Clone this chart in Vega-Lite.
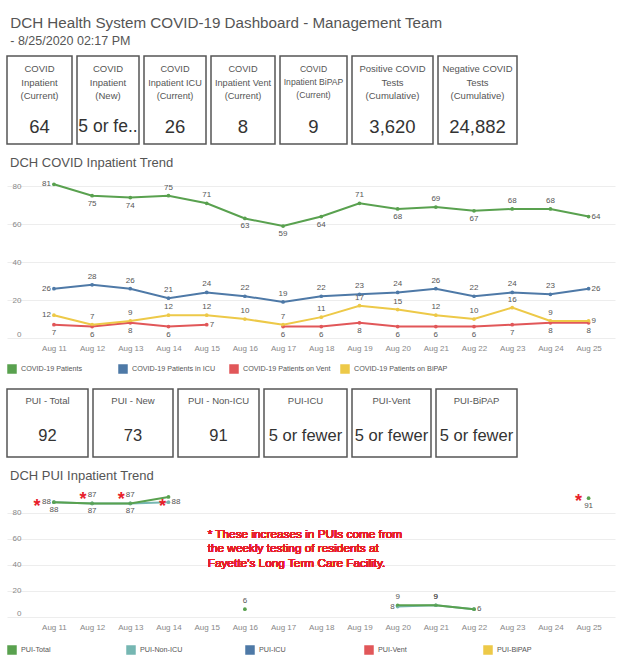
{
  "$schema": "https://vega.github.io/schema/vega-lite/v6.json",
  "background": "white",
  "padding": {"left": 6, "top": 15, "right": 4, "bottom": 4},
  "title": {
    "text": "DCH Health System COVID-19 Dashboard - Management Team",
    "subtitle": "- 8/25/2020 02:17 PM",
    "anchor": "start",
    "dx": 4,
    "fontSize": 15.2,
    "fontWeight": "normal",
    "color": "#555555",
    "subtitleFontSize": 12.5,
    "subtitleColor": "#555555",
    "subtitlePadding": 4,
    "offset": 8
  },
  "datasets": {
    "kpi1": [
      {"k": "a", "label": "COVID\nInpatient\n(Current)", "value": "64"},
      {"k": "b", "label": "COVID\nInpatient\n(New)", "value": "5 or fewer"},
      {"k": "c", "label": "COVID\nInpatient ICU\n(Current)", "value": "26"},
      {"k": "d", "label": "COVID\nInpatient Vent\n(Current)", "value": "8"},
      {"k": "e", "label": "COVID\nInpatient BiPAP\n(Current)", "value": "9"},
      {"k": "f", "label": "Positive COVID\nTests\n(Cumulative)", "value": "3,620"},
      {"k": "g", "label": "Negative COVID\nTests\n(Cumulative)", "value": "24,882"}
    ],
    "kpi2": [
      {"k": "a", "label": "PUI - Total", "value": "92"},
      {"k": "b", "label": "PUI - New", "value": "73"},
      {"k": "c", "label": "PUI - Non-ICU", "value": "91"},
      {"k": "d", "label": "PUI-ICU", "value": "5 or fewer"},
      {"k": "e", "label": "PUI-Vent", "value": "5 or fewer"},
      {"k": "f", "label": "PUI-BiPAP", "value": "5 or fewer"}
    ],
    "inpatient": [
      {"date": "Aug 11", "series": "COVID-19 Patients", "v": 81},
      {"date": "Aug 12", "series": "COVID-19 Patients", "v": 75},
      {"date": "Aug 13", "series": "COVID-19 Patients", "v": 74},
      {"date": "Aug 14", "series": "COVID-19 Patients", "v": 75},
      {"date": "Aug 15", "series": "COVID-19 Patients", "v": 71},
      {"date": "Aug 16", "series": "COVID-19 Patients", "v": 63},
      {"date": "Aug 17", "series": "COVID-19 Patients", "v": 59},
      {"date": "Aug 18", "series": "COVID-19 Patients", "v": 64},
      {"date": "Aug 19", "series": "COVID-19 Patients", "v": 71},
      {"date": "Aug 20", "series": "COVID-19 Patients", "v": 68},
      {"date": "Aug 21", "series": "COVID-19 Patients", "v": 69},
      {"date": "Aug 22", "series": "COVID-19 Patients", "v": 67},
      {"date": "Aug 23", "series": "COVID-19 Patients", "v": 68},
      {"date": "Aug 24", "series": "COVID-19 Patients", "v": 68},
      {"date": "Aug 25", "series": "COVID-19 Patients", "v": 64},
      {"date": "Aug 11", "series": "COVID-19 Patients in ICU", "v": 26},
      {"date": "Aug 12", "series": "COVID-19 Patients in ICU", "v": 28},
      {"date": "Aug 13", "series": "COVID-19 Patients in ICU", "v": 26},
      {"date": "Aug 14", "series": "COVID-19 Patients in ICU", "v": 21},
      {"date": "Aug 15", "series": "COVID-19 Patients in ICU", "v": 24},
      {"date": "Aug 16", "series": "COVID-19 Patients in ICU", "v": 22},
      {"date": "Aug 17", "series": "COVID-19 Patients in ICU", "v": 19},
      {"date": "Aug 18", "series": "COVID-19 Patients in ICU", "v": 22},
      {"date": "Aug 19", "series": "COVID-19 Patients in ICU", "v": 23},
      {"date": "Aug 20", "series": "COVID-19 Patients in ICU", "v": 24},
      {"date": "Aug 21", "series": "COVID-19 Patients in ICU", "v": 26},
      {"date": "Aug 22", "series": "COVID-19 Patients in ICU", "v": 22},
      {"date": "Aug 23", "series": "COVID-19 Patients in ICU", "v": 24},
      {"date": "Aug 24", "series": "COVID-19 Patients in ICU", "v": 23},
      {"date": "Aug 25", "series": "COVID-19 Patients in ICU", "v": 26},
      {"date": "Aug 11", "series": "COVID-19 Patients on Vent", "v": 7},
      {"date": "Aug 12", "series": "COVID-19 Patients on Vent", "v": 6},
      {"date": "Aug 13", "series": "COVID-19 Patients on Vent", "v": 8},
      {"date": "Aug 14", "series": "COVID-19 Patients on Vent", "v": 6},
      {"date": "Aug 15", "series": "COVID-19 Patients on Vent", "v": 7},
      {"date": "Aug 16", "series": "COVID-19 Patients on Vent", "v": null},
      {"date": "Aug 17", "series": "COVID-19 Patients on Vent", "v": 6},
      {"date": "Aug 18", "series": "COVID-19 Patients on Vent", "v": 6},
      {"date": "Aug 19", "series": "COVID-19 Patients on Vent", "v": 8},
      {"date": "Aug 20", "series": "COVID-19 Patients on Vent", "v": 6},
      {"date": "Aug 21", "series": "COVID-19 Patients on Vent", "v": 6},
      {"date": "Aug 22", "series": "COVID-19 Patients on Vent", "v": 6},
      {"date": "Aug 23", "series": "COVID-19 Patients on Vent", "v": 7},
      {"date": "Aug 24", "series": "COVID-19 Patients on Vent", "v": 8},
      {"date": "Aug 25", "series": "COVID-19 Patients on Vent", "v": 8},
      {"date": "Aug 11", "series": "COVID-19 Patients on BiPAP", "v": 12},
      {"date": "Aug 12", "series": "COVID-19 Patients on BiPAP", "v": 7},
      {"date": "Aug 13", "series": "COVID-19 Patients on BiPAP", "v": 9},
      {"date": "Aug 14", "series": "COVID-19 Patients on BiPAP", "v": 12},
      {"date": "Aug 15", "series": "COVID-19 Patients on BiPAP", "v": 12},
      {"date": "Aug 16", "series": "COVID-19 Patients on BiPAP", "v": 10},
      {"date": "Aug 17", "series": "COVID-19 Patients on BiPAP", "v": 7},
      {"date": "Aug 18", "series": "COVID-19 Patients on BiPAP", "v": 11},
      {"date": "Aug 19", "series": "COVID-19 Patients on BiPAP", "v": 17},
      {"date": "Aug 20", "series": "COVID-19 Patients on BiPAP", "v": 15},
      {"date": "Aug 21", "series": "COVID-19 Patients on BiPAP", "v": 12},
      {"date": "Aug 22", "series": "COVID-19 Patients on BiPAP", "v": 10},
      {"date": "Aug 23", "series": "COVID-19 Patients on BiPAP", "v": 16},
      {"date": "Aug 24", "series": "COVID-19 Patients on BiPAP", "v": 9},
      {"date": "Aug 25", "series": "COVID-19 Patients on BiPAP", "v": 9}
    ],
    "pui": [
      {"date": "Aug 11", "series": "PUI-Non-ICU", "v": 88},
      {"date": "Aug 12", "series": "PUI-Non-ICU", "v": 87},
      {"date": "Aug 13", "series": "PUI-Non-ICU", "v": 87},
      {"date": "Aug 14", "series": "PUI-Non-ICU", "v": 88},
      {"date": "Aug 15", "series": "PUI-Non-ICU", "v": null},
      {"date": "Aug 20", "series": "PUI-Non-ICU", "v": 8},
      {"date": "Aug 21", "series": "PUI-Non-ICU", "v": 9},
      {"date": "Aug 22", "series": "PUI-Non-ICU", "v": 6},
      {"date": "Aug 11", "series": "PUI-Total", "v": 88},
      {"date": "Aug 12", "series": "PUI-Total", "v": 87},
      {"date": "Aug 13", "series": "PUI-Total", "v": 87},
      {"date": "Aug 14", "series": "PUI-Total", "v": 92},
      {"date": "Aug 15", "series": "PUI-Total", "v": null},
      {"date": "Aug 16", "series": "PUI-Total", "v": 6},
      {"date": "Aug 17", "series": "PUI-Total", "v": null},
      {"date": "Aug 18", "series": "PUI-Total", "v": null},
      {"date": "Aug 19", "series": "PUI-Total", "v": null},
      {"date": "Aug 20", "series": "PUI-Total", "v": 9},
      {"date": "Aug 21", "series": "PUI-Total", "v": 9},
      {"date": "Aug 22", "series": "PUI-Total", "v": 6},
      {"date": "Aug 23", "series": "PUI-Total", "v": null},
      {"date": "Aug 24", "series": "PUI-Total", "v": null},
      {"date": "Aug 25", "series": "PUI-Total", "v": 91}
    ]
  },
  "spacing": 12,
  "resolve": {
    "scale": {"x": "independent", "y": "independent", "color": "independent"},
    "legend": {"color": "independent"}
  },
  "vconcat": [
    {
      "spacing": 3,
      "hconcat": [
        {"width": 65, "height": 88, "view": {"stroke": "#555555", "strokeWidth": 1.5}, "data": {"name": "kpi1"}, "transform": [{"filter": "datum.k == 'a'"}],
         "layer": [
           {"mark": {"type": "text", "lineBreak": "\n", "fontSize": 9.5, "lineHeight": 13.7, "color": "#555555", "dy": -31}, "encoding": {"text": {"field": "label"}}},
           {"mark": {"type": "text", "fontSize": 18.5, "color": "#333333", "dy": 27}, "encoding": {"text": {"field": "value"}}}
         ]},
        {"width": 62, "height": 88, "view": {"stroke": "#555555", "strokeWidth": 1.5}, "data": {"name": "kpi1"}, "transform": [{"filter": "datum.k == 'b'"}],
         "layer": [
           {"mark": {"type": "text", "lineBreak": "\n", "fontSize": 9.5, "lineHeight": 13.7, "color": "#555555", "dy": -31}, "encoding": {"text": {"field": "label"}}},
           {"mark": {"type": "text", "fontSize": 17.5, "color": "#333333", "dy": 27, "limit": 60, "ellipsis": ".."}, "encoding": {"text": {"field": "value"}}}
         ]},
        {"width": 62, "height": 88, "view": {"stroke": "#555555", "strokeWidth": 1.5}, "data": {"name": "kpi1"}, "transform": [{"filter": "datum.k == 'c'"}],
         "layer": [
           {"mark": {"type": "text", "lineBreak": "\n", "fontSize": 9.2, "lineHeight": 13.7, "color": "#555555", "dy": -31}, "encoding": {"text": {"field": "label"}}},
           {"mark": {"type": "text", "fontSize": 18.5, "color": "#333333", "dy": 27}, "encoding": {"text": {"field": "value"}}}
         ]},
        {"width": 64, "height": 88, "view": {"stroke": "#555555", "strokeWidth": 1.5}, "data": {"name": "kpi1"}, "transform": [{"filter": "datum.k == 'd'"}],
         "layer": [
           {"mark": {"type": "text", "lineBreak": "\n", "fontSize": 9.2, "lineHeight": 13.7, "color": "#555555", "dy": -31}, "encoding": {"text": {"field": "label"}}},
           {"mark": {"type": "text", "fontSize": 18.5, "color": "#333333", "dy": 27}, "encoding": {"text": {"field": "value"}}}
         ]},
        {"width": 67, "height": 88, "view": {"stroke": "#555555", "strokeWidth": 1.5}, "data": {"name": "kpi1"}, "transform": [{"filter": "datum.k == 'e'"}],
         "layer": [
           {"mark": {"type": "text", "lineBreak": "\n", "fontSize": 8.6, "lineHeight": 13.2, "color": "#555555", "dy": -31}, "encoding": {"text": {"field": "label"}}},
           {"mark": {"type": "text", "fontSize": 18.5, "color": "#333333", "dy": 27}, "encoding": {"text": {"field": "value"}}}
         ]},
        {"width": 81, "height": 88, "view": {"stroke": "#555555", "strokeWidth": 1.5}, "data": {"name": "kpi1"}, "transform": [{"filter": "datum.k == 'f'"}],
         "layer": [
           {"mark": {"type": "text", "lineBreak": "\n", "fontSize": 9.5, "lineHeight": 13.7, "color": "#555555", "dy": -31}, "encoding": {"text": {"field": "label"}}},
           {"mark": {"type": "text", "fontSize": 18.5, "color": "#333333", "dy": 27}, "encoding": {"text": {"field": "value"}}}
         ]},
        {"width": 79, "height": 88, "view": {"stroke": "#555555", "strokeWidth": 1.5}, "data": {"name": "kpi1"}, "transform": [{"filter": "datum.k == 'g'"}],
         "layer": [
           {"mark": {"type": "text", "lineBreak": "\n", "fontSize": 9.5, "lineHeight": 13.7, "color": "#555555", "dy": -31}, "encoding": {"text": {"field": "label"}}},
           {"mark": {"type": "text", "fontSize": 18.5, "color": "#333333", "dy": 27}, "encoding": {"text": {"field": "value"}}}
         ]}
      ]
    },
    {
      "title": {"text": "DCH COVID Inpatient Trend", "anchor": "start", "dx": 3, "fontSize": 13, "fontWeight": "normal", "color": "#555555", "offset": 1},
      "width": 608,
      "height": 167,
      "data": {"name": "inpatient"},
      "transform": [
        {"window": [{"op": "lag", "field": "v", "as": "prev"}, {"op": "lead", "field": "v", "as": "next"}], "groupby": ["series"], "sort": [{"field": "date", "order": "ascending"}]},
        {"calculate": "datum.series == 'COVID-19 Patients on Vent' ? ((datum.next == null && datum.date != 'Aug 25') ? 'right' : 'below') : datum.prev == null ? 'left' : datum.next == null ? 'right' : datum.series == 'COVID-19 Patients' ? (datum.v >= (datum.prev + datum.next) / 2 ? 'above' : 'below') : 'above'", "as": "pos"}
      ],
      "encoding": {
        "x": {"field": "date", "type": "ordinal", "title": null,
              "scale": {"type": "point", "domain": ["Aug 11", "Aug 12", "Aug 13", "Aug 14", "Aug 15", "Aug 16", "Aug 17", "Aug 18", "Aug 19", "Aug 20", "Aug 21", "Aug 22", "Aug 23", "Aug 24", "Aug 25"], "padding": 0.96, "align": 0.64},
              "axis": {"labelAngle": 0, "domain": false, "ticks": false, "grid": false, "labelColor": "#888888", "labelFontSize": 8, "labelPadding": 6}},
        "y": {"field": "v", "type": "quantitative", "title": null,
              "scale": {"domain": [0, 88], "nice": false, "zero": true},
              "axis": {"values": [0, 20, 40, 60, 80], "offset": -16, "domain": false, "ticks": false, "labelColor": "#888888", "labelFontSize": 8, "labelPadding": 2, "labelFlush": true, "gridColor": "#ededed"}}
      },
      "layer": [
        {"mark": {"type": "circle", "size": 14, "opacity": 1},
         "encoding": {"color": {"field": "series", "type": "nominal",
            "scale": {"domain": ["COVID-19 Patients", "COVID-19 Patients in ICU", "COVID-19 Patients on Vent", "COVID-19 Patients on BiPAP"], "range": ["#59a14f", "#4e79a7", "#e15759", "#edc948"]},
            "legend": {"orient": "bottom", "direction": "horizontal", "title": null, "columns": 4, "gridAlign": "all", "columnPadding": 1, "symbolType": "square", "symbolSize": 64, "symbolOpacity": 1, "labelFontSize": 7.2, "labelColor": "#555555", "offset": 12, "padding": 0}}}},
        {"mark": {"type": "line", "strokeWidth": 2, "invalid": "break-paths-show-domains"},
         "encoding": {"color": {"field": "series", "type": "nominal",
            "scale": {"domain": ["COVID-19 Patients", "COVID-19 Patients in ICU", "COVID-19 Patients on Vent", "COVID-19 Patients on BiPAP"], "range": ["#59a14f", "#4e79a7", "#e15759", "#edc948"]},
            "legend": {"orient": "bottom", "direction": "horizontal", "title": null, "columns": 4, "gridAlign": "all", "columnPadding": 1, "symbolType": "square", "symbolSize": 64, "symbolOpacity": 1, "labelFontSize": 7.2, "labelColor": "#555555", "offset": 12, "padding": 0}}}},
        {"transform": [{"filter": "datum.v != null && datum.pos == 'above'"}], "mark": {"type": "text", "dy": -8, "fontSize": 8, "color": "#555555"}, "encoding": {"text": {"field": "v", "type": "quantitative"}}},
        {"transform": [{"filter": "datum.v != null && datum.pos == 'below'"}], "mark": {"type": "text", "dy": 8, "fontSize": 8, "color": "#555555"}, "encoding": {"text": {"field": "v", "type": "quantitative"}}},
        {"transform": [{"filter": "datum.v != null && datum.pos == 'left'"}], "mark": {"type": "text", "dx": -3, "align": "right", "fontSize": 8, "color": "#555555"}, "encoding": {"text": {"field": "v", "type": "quantitative"}}},
        {"transform": [{"filter": "datum.v != null && datum.pos == 'right'"}], "mark": {"type": "text", "dx": 3, "align": "left", "fontSize": 8, "color": "#555555"}, "encoding": {"text": {"field": "v", "type": "quantitative"}}}
      ]
    },
    {
      "spacing": 3,
      "hconcat": [
        {"width": 81, "height": 68, "view": {"stroke": "#555555", "strokeWidth": 1.5}, "data": {"name": "kpi2"}, "transform": [{"filter": "datum.k == 'a'"}],
         "layer": [
           {"mark": {"type": "text", "fontSize": 9.5, "color": "#555555", "dy": -22}, "encoding": {"text": {"field": "label"}}},
           {"mark": {"type": "text", "fontSize": 16.5, "color": "#333333", "dy": 13}, "encoding": {"text": {"field": "value"}}}
         ]},
        {"width": 80, "height": 68, "view": {"stroke": "#555555", "strokeWidth": 1.5}, "data": {"name": "kpi2"}, "transform": [{"filter": "datum.k == 'b'"}],
         "layer": [
           {"mark": {"type": "text", "fontSize": 9.5, "color": "#555555", "dy": -22}, "encoding": {"text": {"field": "label"}}},
           {"mark": {"type": "text", "fontSize": 16.5, "color": "#333333", "dy": 13}, "encoding": {"text": {"field": "value"}}}
         ]},
        {"width": 81, "height": 68, "view": {"stroke": "#555555", "strokeWidth": 1.5}, "data": {"name": "kpi2"}, "transform": [{"filter": "datum.k == 'c'"}],
         "layer": [
           {"mark": {"type": "text", "fontSize": 9.5, "color": "#555555", "dy": -22}, "encoding": {"text": {"field": "label"}}},
           {"mark": {"type": "text", "fontSize": 16.5, "color": "#333333", "dy": 13}, "encoding": {"text": {"field": "value"}}}
         ]},
        {"width": 83, "height": 68, "view": {"stroke": "#555555", "strokeWidth": 1.5}, "data": {"name": "kpi2"}, "transform": [{"filter": "datum.k == 'd'"}],
         "layer": [
           {"mark": {"type": "text", "fontSize": 9.5, "color": "#555555", "dy": -22}, "encoding": {"text": {"field": "label"}}},
           {"mark": {"type": "text", "fontSize": 16.5, "color": "#333333", "dy": 13}, "encoding": {"text": {"field": "value"}}}
         ]},
        {"width": 79, "height": 68, "view": {"stroke": "#555555", "strokeWidth": 1.5}, "data": {"name": "kpi2"}, "transform": [{"filter": "datum.k == 'e'"}],
         "layer": [
           {"mark": {"type": "text", "fontSize": 9.5, "color": "#555555", "dy": -22}, "encoding": {"text": {"field": "label"}}},
           {"mark": {"type": "text", "fontSize": 16.5, "color": "#333333", "dy": 13}, "encoding": {"text": {"field": "value"}}}
         ]},
        {"width": 81, "height": 68, "view": {"stroke": "#555555", "strokeWidth": 1.5}, "data": {"name": "kpi2"}, "transform": [{"filter": "datum.k == 'f'"}],
         "layer": [
           {"mark": {"type": "text", "fontSize": 9.5, "color": "#555555", "dy": -22}, "encoding": {"text": {"field": "label"}}},
           {"mark": {"type": "text", "fontSize": 16.5, "color": "#333333", "dy": 13}, "encoding": {"text": {"field": "value"}}}
         ]}
      ]
    },
    {
      "title": {"text": "DCH PUI Inpatient Trend", "anchor": "start", "dx": 3, "fontSize": 13, "fontWeight": "normal", "color": "#555555", "offset": 8},
      "width": 608,
      "height": 124,
      "data": {"name": "pui"},
      "transform": [
        {"window": [{"op": "lag", "field": "v", "as": "prev"}, {"op": "lead", "field": "v", "as": "next"}], "groupby": ["series"], "sort": [{"field": "date", "order": "ascending"}]},
        {"calculate": "datum.series == 'PUI-Total' ? ((datum.prev == null || datum.next != null) ? (datum.v > 50 ? 'below' : 'above') : 'none') : (datum.prev == null ? 'left' : datum.next == null ? 'right' : 'above')", "as": "pos"}
      ],
      "encoding": {
        "x": {"field": "date", "type": "ordinal", "title": null,
              "scale": {"type": "point", "domain": ["Aug 11", "Aug 12", "Aug 13", "Aug 14", "Aug 15", "Aug 16", "Aug 17", "Aug 18", "Aug 19", "Aug 20", "Aug 21", "Aug 22", "Aug 23", "Aug 24", "Aug 25"], "padding": 0.96, "align": 0.64},
              "axis": {"labelAngle": 0, "domain": false, "ticks": false, "grid": false, "labelColor": "#888888", "labelFontSize": 8, "labelPadding": 6}},
        "y": {"field": "v", "type": "quantitative", "title": null,
              "scale": {"domain": [0, 95], "nice": false, "zero": true},
              "axis": {"values": [0, 20, 40, 60, 80], "offset": -16, "domain": false, "ticks": false, "labelColor": "#888888", "labelFontSize": 8, "labelPadding": 2, "labelFlush": true, "gridColor": "#ededed"}}
      },
      "layer": [
        {"mark": {"type": "circle", "size": 14, "opacity": 1},
         "encoding": {"color": {"field": "series", "type": "nominal",
            "scale": {"domain": ["PUI-Total", "PUI-Non-ICU", "PUI-ICU", "PUI-Vent", "PUI-BiPAP"], "range": ["#59a14f", "#76b7b2", "#4e79a7", "#e15759", "#edc948"]},
            "legend": {"orient": "bottom", "direction": "horizontal", "title": null, "columns": 5, "gridAlign": "all", "columnPadding": 60, "symbolType": "square", "symbolSize": 64, "symbolOpacity": 1, "labelFontSize": 7.2, "labelColor": "#555555", "offset": 14, "padding": 0}}}},
        {"mark": {"type": "line", "strokeWidth": 2, "invalid": "break-paths-show-domains"},
         "encoding": {"color": {"field": "series", "type": "nominal",
            "scale": {"domain": ["PUI-Total", "PUI-Non-ICU", "PUI-ICU", "PUI-Vent", "PUI-BiPAP"], "range": ["#59a14f", "#76b7b2", "#4e79a7", "#e15759", "#edc948"]},
            "legend": {"orient": "bottom", "direction": "horizontal", "title": null, "columns": 5, "gridAlign": "all", "columnPadding": 60, "symbolType": "square", "symbolSize": 64, "symbolOpacity": 1, "labelFontSize": 7.2, "labelColor": "#555555", "offset": 14, "padding": 0}}}},
        {"transform": [{"filter": "datum.v != null && datum.pos == 'above'"}], "mark": {"type": "text", "dy": -8, "fontSize": 8, "color": "#555555"}, "encoding": {"text": {"field": "v", "type": "quantitative"}}},
        {"transform": [{"filter": "datum.v != null && datum.pos == 'below'"}], "mark": {"type": "text", "dy": 8, "fontSize": 8, "color": "#555555"}, "encoding": {"text": {"field": "v", "type": "quantitative"}}},
        {"transform": [{"filter": "datum.v != null && datum.pos == 'left'"}], "mark": {"type": "text", "dx": -3, "align": "right", "fontSize": 8, "color": "#555555"}, "encoding": {"text": {"field": "v", "type": "quantitative"}}},
        {"transform": [{"filter": "datum.v != null && datum.pos == 'right'"}], "mark": {"type": "text", "dx": 3, "align": "left", "fontSize": 8, "color": "#555555"}, "encoding": {"text": {"field": "v", "type": "quantitative"}}},
        {"transform": [{"filter": "((datum.series == 'PUI-Non-ICU' && datum.date <= 'Aug 14') || (datum.series == 'PUI-Total' && datum.date == 'Aug 25')) && datum.pos == 'left'"}], "mark": {"type": "text", "text": "*", "dx": -17, "dy": 5, "fontSize": 18, "fontWeight": "bold", "color": "#e8202a"}},
        {"transform": [{"filter": "((datum.series == 'PUI-Non-ICU' && datum.date <= 'Aug 14') || (datum.series == 'PUI-Total' && datum.date == 'Aug 25')) && datum.pos == 'above'"}], "mark": {"type": "text", "text": "*", "dx": -9, "dy": -3, "fontSize": 18, "fontWeight": "bold", "color": "#e8202a"}},
        {"transform": [{"filter": "datum.series == 'PUI-Non-ICU' && datum.date <= 'Aug 14' && datum.pos == 'right'"}], "mark": {"type": "text", "text": "*", "dx": -6, "dy": 5, "fontSize": 18, "fontWeight": "bold", "color": "#e8202a"}},
        {"transform": [{"filter": "datum.series == 'PUI-Total' && datum.date == 'Aug 25'"}], "mark": {"type": "text", "text": "*", "dx": -10, "dy": 4, "fontSize": 18, "fontWeight": "bold", "color": "#e8202a"}},
        {"mark": {"type": "text", "text": ["* These increases in PUIs come from", "the weekly testing of residents at", "Fayette\u2019s Long Term Care Facility."], "align": "left", "baseline": "top", "dx": 1, "lineHeight": 14.5, "fontSize": 11.8, "color": "#e8202a"},
         "encoding": {"x": {"datum": "Aug 15"}, "y": {"datum": 67.5}}}
      ]
    }
  ],
  "config": {
    "font": "Liberation Sans, Arial, sans-serif",
    "view": {"stroke": null},
    "title": {"fontWeight": "normal"}
  }
}
